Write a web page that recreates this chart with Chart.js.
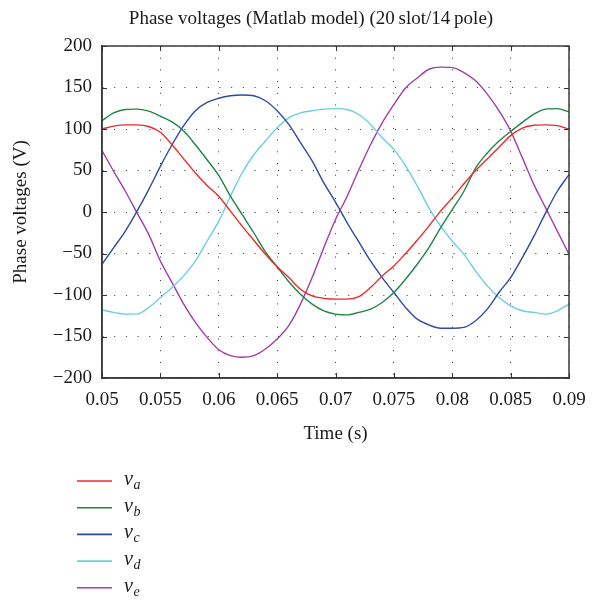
<!DOCTYPE html>
<html>
<head>
<meta charset="utf-8">
<script src="https://cdn.jsdelivr.net/npm/chart.js@4/dist/chart.umd.min.js"></script>
<style>
  html, body { margin: 0; padding: 0; background: #fff; }
  #wrap { width: 597px; height: 601px; position: relative; }
</style>
</head>
<body>
<div id="wrap"><canvas id="c" width="597" height="601"></canvas></div>
<script>
// Sample instants (s)
const time = [
  0.050, 0.051, 0.052, 0.053, 0.054, 0.055, 0.056, 0.057, 0.058, 0.059,
  0.060, 0.061, 0.062, 0.063, 0.064, 0.065, 0.066, 0.067, 0.068, 0.069,
  0.070, 0.071, 0.072, 0.073, 0.074, 0.075, 0.076, 0.077, 0.078, 0.079,
  0.080, 0.081, 0.082, 0.083, 0.084, 0.085, 0.086, 0.087, 0.088, 0.089,
  0.090
];

// Phase voltages (V)
const va = [
  100, 103.5, 105, 105, 103, 96, 81, 64, 47, 32,
  19, 1, -17, -34, -51, -66, -79, -93, -101, -104,
  -105, -105, -102, -91, -77, -65, -50, -34, -17, 1,
  17, 34, 50, 64, 78, 92, 101, 104.5, 105, 104,
  100
];
const vb = [
  110, 119.5, 123.5, 124, 121.5, 115.5, 108.5, 97.5, 81, 63,
  44, 19, -3, -25, -48, -66, -84, -99, -111, -119,
  -123, -124, -121, -117, -109, -97, -81, -63, -43, -19,
  3, 25, 53, 71, 85.5, 97, 108, 118, 124, 124.5,
  120.5
];
const vc = [
  -63, -43, -23, 1, 27, 55, 81, 104, 122, 132,
  137, 140, 141, 140, 134, 122, 105.5, 83.5, 61.5, 35,
  12, -13, -36, -59, -79, -97, -115, -129, -136, -140,
  -140, -139, -131, -117, -97, -79, -55, -29, -1, 25,
  45
];
const vd = [
  -118, -121, -123, -123, -115, -103, -91, -77, -59, -35,
  -11, 19, 47, 69, 85.5, 101.5, 113.5, 119.5, 122, 124,
  124.5, 123.5, 117.5, 105.5, 89.5, 75.5, 55.5, 31.5, 5, -17,
  -35, -51, -71, -89, -103, -113, -119, -121, -123, -119,
  -111
];
const ve = [
  74, 49, 25, -1, -27, -59, -85, -111, -133, -151,
  -166, -173, -175, -173, -165, -153, -137, -111, -79, -43,
  -9, 19, 51, 81, 107.5, 129.5, 149.5, 161.5, 172, 174.5,
  174, 168, 158, 142, 122, 97.5, 65.5, 33, 5, -23,
  -51
];

// Axis ticks and labels
const xTicks = [0.05, 0.055, 0.06, 0.065, 0.07, 0.075, 0.08, 0.085, 0.09];
const xTickLabels = ['0.05', '0.055', '0.06', '0.065', '0.07', '0.075', '0.08', '0.085', '0.09'];
const yTicks = [-200, -150, -100, -50, 0, 50, 100, 150, 200];
const yTickLabels = ['\u2212200', '\u2212150', '\u2212100', '\u221250', '0', '50', '100', '150', '200'];

const phaseNames = ['a', 'b', 'c', 'd', 'e'];
const phaseColors = ['#ee2a2a', '#1f8549', '#2f4aa2', '#6ccfdc', '#a23ea5'];
const phaseValues = [va, vb, vc, vd, ve];

const titleText = 'Phase voltages (Matlab model) (20\u2009slot/14\u2009pole)';
const SERIF = '"Liberation Serif", "DejaVu Serif", serif';

const datasets = phaseValues.map((vals, i) => ({
  label: 'v' + phaseNames[i],
  data: vals.map((v, k) => ({ x: time[k], y: v })),
  borderColor: phaseColors[i],
  backgroundColor: phaseColors[i],
  borderWidth: 1.4,
  pointRadius: 0,
  fill: false,
  cubicInterpolationMode: 'monotone'
}));

// Frame, inward tick marks, title and legend
const decorations = {
  id: 'decorations',
  afterDraw(chart) {
    const { ctx, chartArea: a, scales } = chart;
    const x = scales.x, y = scales.y;
    ctx.save();
    // ticks pointing inward on all four sides
    ctx.strokeStyle = '#333';
    ctx.lineWidth = 1;
    const tl = 5;
    ctx.beginPath();
    xTicks.forEach(t => {
      const px = Math.round(x.getPixelForValue(t)) + 0.5;
      ctx.moveTo(px, a.bottom); ctx.lineTo(px, a.bottom - tl);
      ctx.moveTo(px, a.top); ctx.lineTo(px, a.top + tl);
    });
    yTicks.forEach(t => {
      const py = Math.round(y.getPixelForValue(t)) + 0.5;
      ctx.moveTo(a.left, py); ctx.lineTo(a.left + tl, py);
      ctx.moveTo(a.right, py); ctx.lineTo(a.right - tl, py);
    });
    ctx.stroke();
    // box
    ctx.strokeStyle = '#3a3a3a';
    ctx.lineWidth = 1.5;
    ctx.strokeRect(a.left, a.top, a.right - a.left, a.bottom - a.top);

    // title
    ctx.fillStyle = '#1a1a1a';
    ctx.font = '19px ' + SERIF;
    ctx.textAlign = 'center';
    ctx.textBaseline = 'alphabetic';
    ctx.fillText(titleText, 311, 24);

    // legend
    const lx0 = 77, lx1 = 112, tx = 124, y0 = 481, dy = 26.7;
    chart.data.datasets.forEach((ds, i) => {
      const yy = y0 + i * dy;
      ctx.strokeStyle = ds.borderColor;
      ctx.lineWidth = 1.6;
      ctx.beginPath();
      ctx.moveTo(lx0, yy); ctx.lineTo(lx1, yy);
      ctx.stroke();
      ctx.fillStyle = '#1a1a1a';
      ctx.textAlign = 'left';
      ctx.textBaseline = 'alphabetic';
      ctx.font = 'italic 20px ' + SERIF;
      ctx.fillText('v', tx, yy + 4);
      const w = ctx.measureText('v').width;
      ctx.font = 'italic 14px ' + SERIF;
      ctx.fillText(phaseNames[i], tx + w + 0.5, yy + 8);
    });
    ctx.restore();
  }
};

new Chart(document.getElementById('c'), {
  type: 'line',
  data: { datasets },
  options: {
    responsive: false,
    animation: false,
    events: [],
    layout: { padding: { left: 0, top: 46, right: 28, bottom: 153 } },
    plugins: { legend: { display: false }, tooltip: { enabled: false }, title: { display: false } },
    scales: {
      x: {
        type: 'linear',
        min: 0.05,
        max: 0.09,
        afterFit(s) { s.height = 70; },
        afterBuildTicks(s) { s.ticks = xTicks.map(v => ({ value: v })); },
        ticks: {
          color: '#1a1a1a',
          font: { family: SERIF, size: 19 },
          padding: 11,
          maxRotation: 0,
          autoSkip: false,
          callback: (v, i) => xTickLabels[i]
        },
        grid: { color: '#333', lineWidth: 1, drawTicks: false },
        border: { display: true, color: '#3a3a3a', width: 1.5, dash: [1, 10.7] },
        title: {
          display: true,
          text: 'Time (s)',
          color: '#1a1a1a',
          font: { family: SERIF, size: 19 },
          padding: { top: 0, bottom: 3 }
        }
      },
      y: {
        type: 'linear',
        min: -200,
        max: 200,
        afterFit(s) { s.width = 102; },
        afterBuildTicks(s) { s.ticks = yTicks.map(v => ({ value: v })); },
        ticks: {
          color: '#1a1a1a',
          font: { family: SERIF, size: 19 },
          padding: 10,
          autoSkip: false,
          callback: (v, i) => yTickLabels[i]
        },
        grid: { color: '#333', lineWidth: 1, drawTicks: false },
        border: { display: true, color: '#3a3a3a', width: 1.5, dash: [1, 10.7] },
        title: {
          display: true,
          text: 'Phase voltages (V)',
          color: '#1a1a1a',
          font: { family: SERIF, size: 19 },
          padding: { top: 10, bottom: 0 }
        }
      }
    }
  },
  plugins: [decorations]
});
</script>
</body>
</html>
